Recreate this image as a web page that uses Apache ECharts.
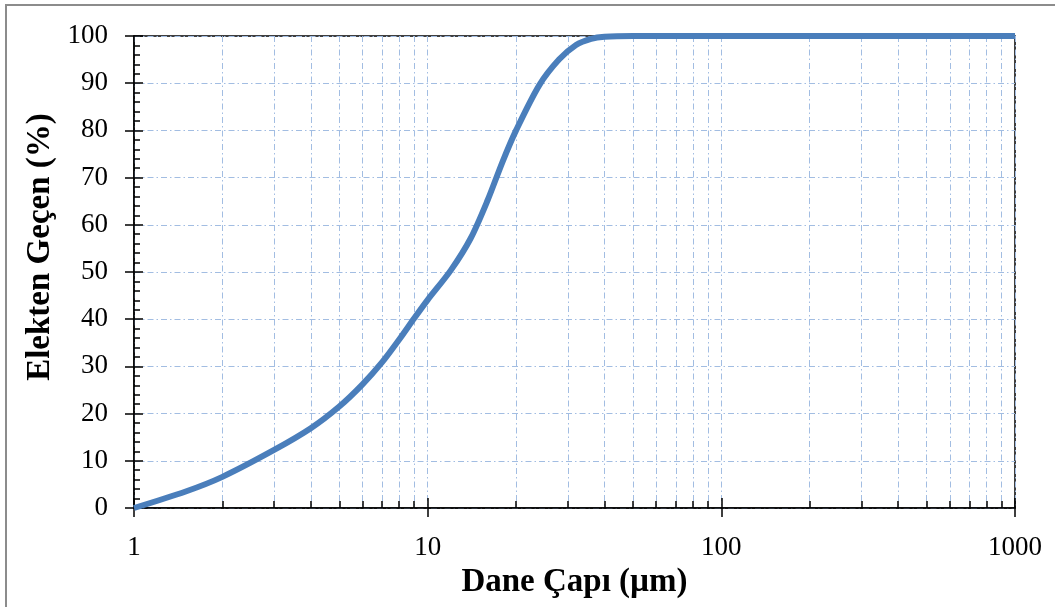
<!DOCTYPE html>
<html>
<head>
<meta charset="utf-8">
<script src="https://cdn.jsdelivr.net/npm/echarts@6/dist/echarts.min.js"></script>
<style>
html, body { margin: 0; padding: 0; background: #fff; overflow: hidden; }
#wrap { position: relative; width: 1055px; height: 607px; overflow: hidden; }
#chart { position: absolute; left: 0; top: 0; width: 1055px; height: 607px; }
#frame { position: absolute; left: 5px; top: 4px; width: 1200px; height: 800px; border-top: 2px solid #8c8c8c; border-left: 2px solid #8c8c8c; pointer-events: none; }
</style>
</head>
<body>
<div id="wrap"><div id="chart"></div><div id="frame"></div></div>
<script>
// Grain size (µm) and percent passing
const grainSizes = [1, 1.5, 2, 3, 4, 5, 6, 7, 8, 9, 10, 12, 14, 16, 18, 20, 24, 28, 32, 36, 40, 50, 60, 100, 200, 500, 1000];
const percentPassing = [0, 3.5, 6.6, 12.3, 16.9, 21.5, 26.2, 30.9, 35.7, 40.2, 44.1, 50.4, 57.1, 65.2, 73.4, 80.0, 89.6, 95.0, 98.1, 99.4, 99.85, 100, 100, 100, 100, 100, 100];
const xTickLabels = ['1', '10', '100', '1000'];
const yTitle = 'Elekten Geçen (%)';
const xTitle = 'Dane Çapı (µm)';

const serif = 'Liberation Serif, Times New Roman, serif';
const gridColor = '#a2bde2';
const dashDot = [6, 3, 1.5, 3];

const chart = echarts.init(document.getElementById('chart'), null, { renderer: 'canvas' });
chart.setOption({
  animation: false,
  backgroundColor: '#ffffff',
  grid: { left: 134, right: 40, top: 36, bottom: 99, show: true, borderColor: '#000', borderWidth: 1.5, backgroundColor: 'transparent' },
  xAxis: [
    {
      type: 'log', logBase: 10, min: 1, max: 1000,
      axisLine: { show: true, onZero: false, lineStyle: { color: '#000', width: 1.5 } },
      axisTick: { show: true, inside: false, length: 9, lineStyle: { color: '#000', width: 1.5 } },
      axisLabel: { show: true, margin: 26, color: '#000', fontFamily: serif, fontSize: 27,
        formatter: function (v) { const s = String(Math.round(v)); return xTickLabels.indexOf(s) >= 0 ? s : ''; } },
      splitLine: { show: true, lineStyle: { color: gridColor, width: 1, type: dashDot } },
      minorTick: { show: false, splitNumber: 9 },
      minorSplitLine: { show: true, lineStyle: { color: gridColor, width: 1, type: dashDot } },
      name: xTitle, nameLocation: 'middle', nameGap: 36,
      nameTextStyle: { color: '#000', fontFamily: serif, fontSize: 33, fontWeight: 'bold' }
    },
    {
      type: 'log', logBase: 10, min: 1, max: 1000, position: 'bottom',
      axisLine: { show: false },
      axisTick: { show: true, inside: true, length: 10, lineStyle: { color: '#000', width: 1.5 } },
      minorTick: { show: true, splitNumber: 9, length: 7, lineStyle: { color: '#000', width: 1.5 } },
      axisLabel: { show: false },
      splitLine: { show: false }
    }
  ],
  yAxis: [
    {
      type: 'value', min: 0, max: 100, interval: 10,
      axisLine: { show: true, onZero: false, lineStyle: { color: '#000', width: 1.5 } },
      axisTick: { show: true, inside: false, length: 9, lineStyle: { color: '#000', width: 1.5 } },
      axisLabel: { show: true, margin: 26, color: '#000', fontFamily: serif, fontSize: 27 },
      splitLine: { show: true, lineStyle: { color: gridColor, width: 1, type: dashDot } },
      name: yTitle, nameLocation: 'middle', nameGap: 76, nameRotate: 90,
      nameTextStyle: { color: '#000', fontFamily: serif, fontSize: 33, fontWeight: 'bold', padding: [0, 0, 0, 50] }
    },
    {
      type: 'value', min: 0, max: 100, interval: 10, position: 'left',
      axisLine: { show: false },
      axisTick: { show: true, inside: true, length: 9, lineStyle: { color: '#000', width: 1.5 } },
      minorTick: { show: true, splitNumber: 5, length: 6, lineStyle: { color: '#000', width: 1.5 } },
      axisLabel: { show: false },
      splitLine: { show: false }
    }
  ],
  series: [{
    type: 'line',
    xAxisIndex: 0, yAxisIndex: 0,
    data: grainSizes.map((x, i) => [x, percentPassing[i]]),
    showSymbol: false, symbol: 'none',
    smooth: 0.3,
    clip: false,
    lineStyle: { color: '#4a7ebb', width: 6 },
    z: 5
  }]
});
</script>
</body>
</html>
